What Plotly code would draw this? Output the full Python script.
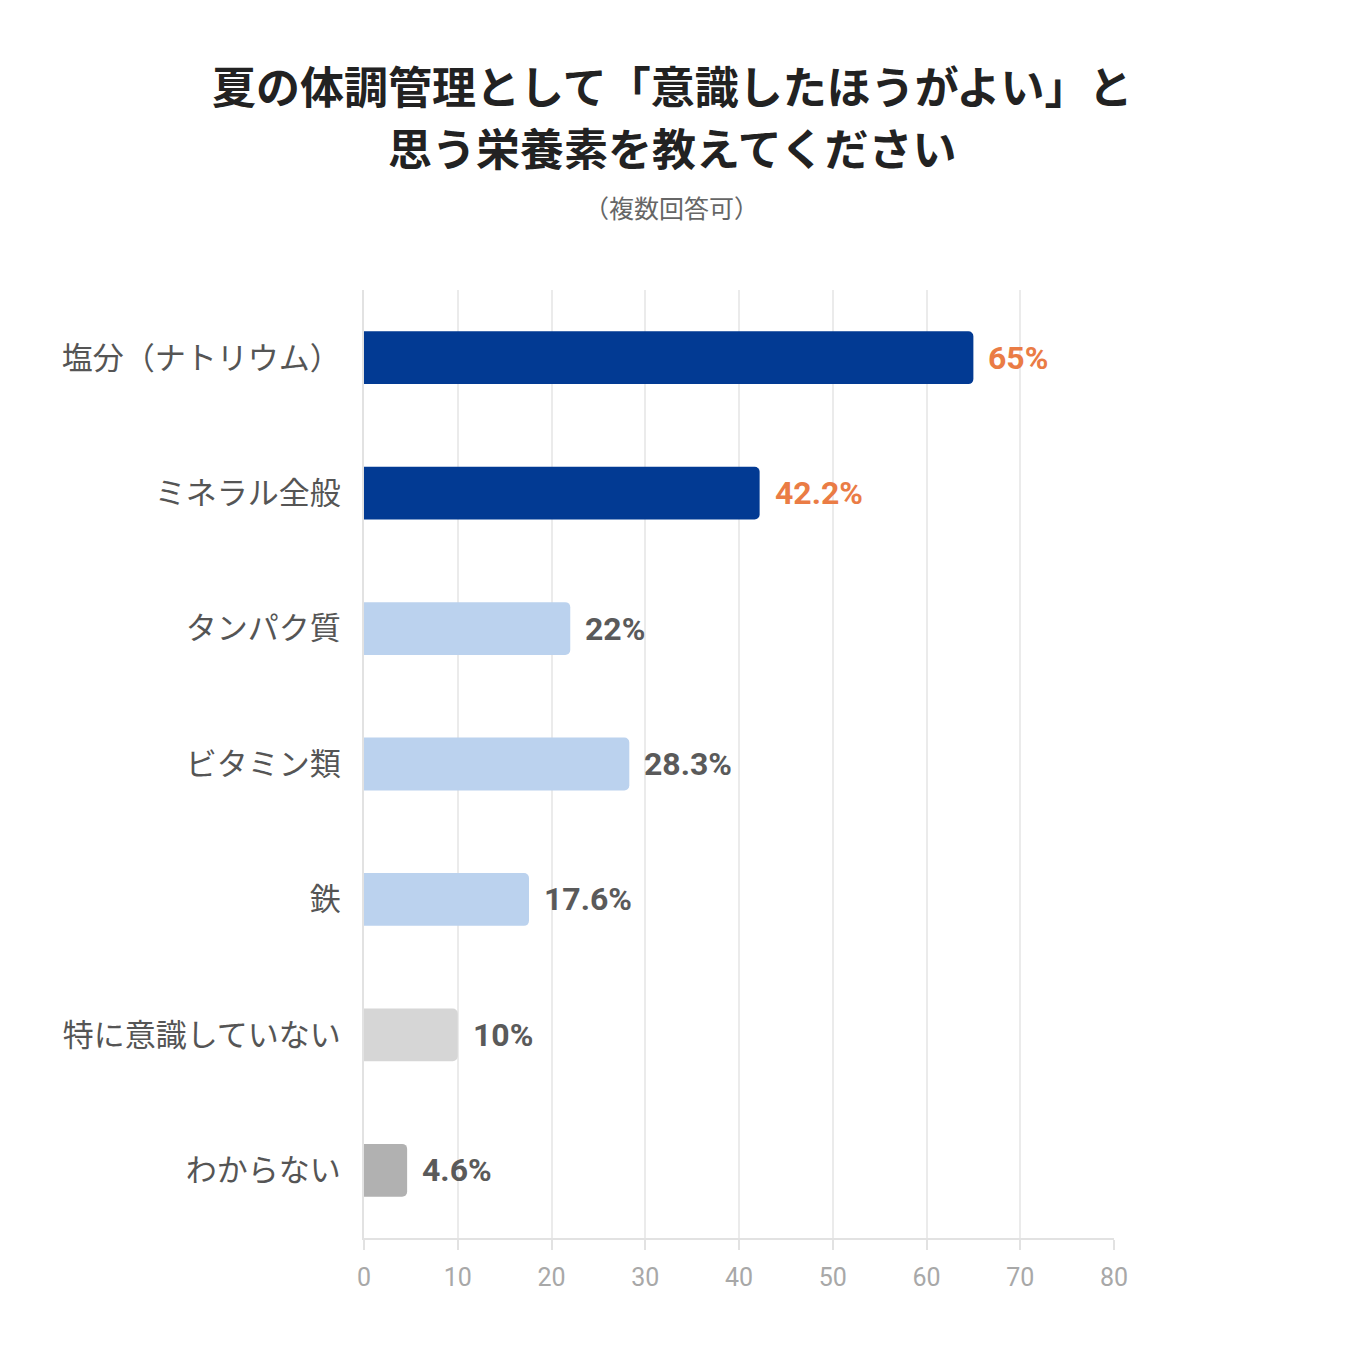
import plotly.graph_objects as go

categories = ['塩分（ナトリウム）', 'ミネラル全般', 'タンパク質', 'ビタミン類', '鉄', '特に意識していない', 'わからない']
values = [65, 42.2, 22, 28.3, 17.6, 10, 4.6]
value_labels = ['65%', '42.2%', '22%', '28.3%', '17.6%', '10%', '4.6%']
bar_colors = ['#023a93', '#023a93', '#bbd2ee', '#bbd2ee', '#bbd2ee', '#d6d6d6', '#b1b1b1']
label_colors = ['#ea7c45', '#ea7c45', '#5a5a5a', '#5a5a5a', '#5a5a5a', '#5a5a5a', '#5a5a5a']
x_ticks = [0, 10, 20, 30, 40, 50, 60, 70, 80]

title_lines = ['夏の体調管理として「意識したほうがよい」と', '思う栄養素を教えてください']
subtitle = '（複数回答可）'

fig = go.Figure()
fig.add_trace(go.Bar(
    x=values, y=categories, orientation='h',
    marker=dict(color=bar_colors, line=dict(width=0)),
    width=0.39, hoverinfo='skip',
))

for cat, val, lab, col in zip(categories, values, value_labels, label_colors):
    fig.add_annotation(x=val, y=cat, text='<b>' + lab + '</b>', showarrow=False,
                       xanchor='left', xshift=13,
                       font=dict(family='Roboto', size=32, color=col))

# page body has an 8px margin, so plot area is offset by that
cjk = 'Noto Sans CJK JP'
top = 282
fig.add_annotation(text='<b>' + title_lines[0] + '</b>', xref='paper', yref='paper',
                   x=0.41, y=1 + (top - 77) / 948, showarrow=False, yanchor='middle',
                   font=dict(family=cjk, size=44, color='#222222'))
fig.add_annotation(text='<b>' + title_lines[1] + '</b>', xref='paper', yref='paper',
                   x=0.41, y=1 + (top - 139) / 948, showarrow=False, yanchor='middle',
                   font=dict(family=cjk, size=44, color='#222222'))
fig.add_annotation(text=subtitle, xref='paper', yref='paper',
                   x=0.41, y=1 + (top - 199) / 948, showarrow=False, yanchor='middle',
                   font=dict(family=cjk, size=25, color='#666666'))

fig.update_layout(
    width=1352, height=1358,
    margin=dict(l=356, r=246, t=top, b=128),
    paper_bgcolor='white', plot_bgcolor='white',
    showlegend=False,
    barcornerradius=5,
    xaxis=dict(range=[0, 80], tickvals=x_ticks, showgrid=True, gridcolor='#ebebeb', gridwidth=1.5,
               zeroline=False, showline=True, linecolor='#e2e2e2', linewidth=2,
               ticks='outside', ticklen=10, tickcolor='#e2e2e2', tickwidth=1.5,
               ticklabelstandoff=6,
               tickfont=dict(family='Roboto', size=25, color='#a8a8a8')),
    yaxis=dict(autorange='reversed', showgrid=False, zeroline=False,
               showline=True, linecolor='#e2e2e2', linewidth=2,
               ticks='', ticklabelstandoff=15,
               tickfont=dict(family=cjk, size=31, color='#555555')),
)

fig.write_html('out.html')
